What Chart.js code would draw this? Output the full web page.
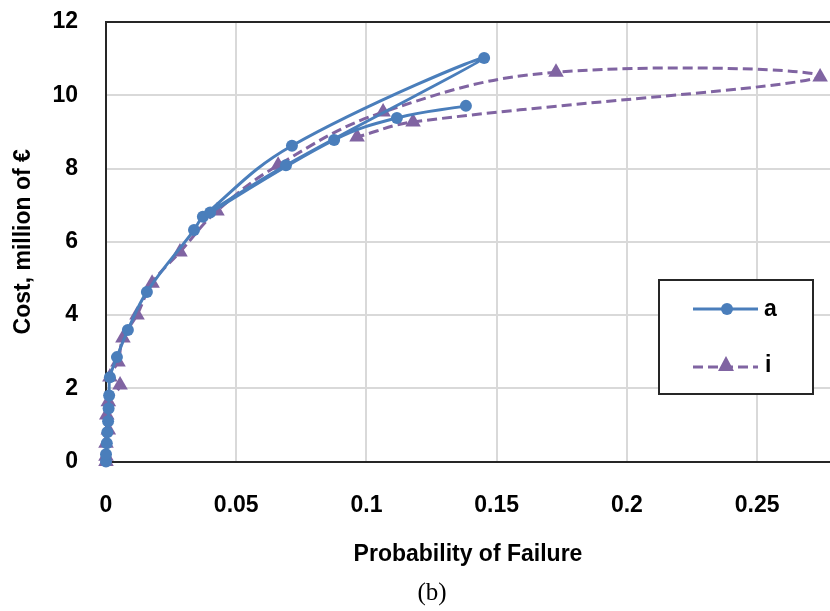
<!DOCTYPE html>
<html>
<head>
<meta charset="utf-8">
<script src="https://cdn.jsdelivr.net/npm/chart.js@4.4.1/dist/chart.umd.min.js"></script>
<style>
  html, body { margin: 0; padding: 0; background: #fff; }
  #wrap { position: relative; width: 830px; height: 611px; }
  #caption {
    position: absolute; left: 432px; top: 578px; transform: translateX(-50%);
    font-family: "Liberation Serif", "Times New Roman", serif; font-size: 25px; color: #000;
  }
</style>
</head>
<body>
<div id="wrap">
  <canvas id="graf" width="830" height="611"></canvas>
  <div id="caption">(b)</div>
</div>
<script>
// datos
var seriesNames = ['a', 'i'];

var aProb = [0, 0, 0.0003, 0.0005, 0.0008, 0.001, 0.0012, 0.0015, 0.0042, 0.0084, 0.0157, 0.0338, 0.0372, 0.0714, 0.1452, 0.0691, 0.040, 0.0876, 0.1117, 0.1382];
var aCost = [0, 0.2, 0.5, 0.8, 1.1, 1.45, 1.8, 2.3, 2.85, 3.59, 4.63, 6.32, 6.68, 8.62, 11.02, 8.09, 6.8, 8.78, 9.38, 9.71];

var iProb = [0, 0, 0, 0.0009, 0.0003, 0.0009, 0.0054, 0.0015, 0.0046, 0.0065, 0.0119, 0.0177, 0.0284, 0.0426, 0.0661, 0.1064, 0.1728, 0.2742, 0.1179, 0.0964];
var iCost = [0, 0.14, 0.5, 0.86, 1.27, 1.63, 2.09, 2.31, 2.72, 3.37, 4.0, 4.87, 5.72, 6.84, 8.09, 9.54, 10.63, 10.5, 9.27, 8.86];

var xTicks = [0, 0.05, 0.1, 0.15, 0.2, 0.25];
var yTicks = [0, 2, 4, 6, 8, 10, 12];

var azul = '#4a7ebb';
var morado = '#8064a2';
var fuente = '"Liberation Sans", Arial, sans-serif';

function puntos(xs, ys) {
  return xs.map(function (x, k) { return { x: x, y: ys[k] }; });
}

// leyenda dibujada dentro del area del grafico
var leyenda = {
  id: 'leyenda',
  afterDraw: function (chart) {
    var c = chart.ctx;
    c.save();
    c.fillStyle = '#fff';
    c.fillRect(659, 280, 154, 114);
    c.strokeStyle = '#262626';
    c.lineWidth = 2;
    c.strokeRect(659, 280, 154, 114);

    // a
    c.strokeStyle = azul;
    c.lineWidth = 3;
    c.beginPath(); c.moveTo(693, 309); c.lineTo(758, 309); c.stroke();
    c.fillStyle = azul;
    c.beginPath(); c.arc(727, 309, 6, 0, Math.PI * 2); c.fill();

    // i
    c.strokeStyle = morado;
    c.setLineDash([10, 5]);
    c.beginPath(); c.moveTo(693, 367); c.lineTo(758, 367); c.stroke();
    c.setLineDash([]);
    c.fillStyle = morado;
    c.beginPath(); c.moveTo(726, 356); c.lineTo(734, 371); c.lineTo(718, 371); c.closePath(); c.fill();

    c.fillStyle = '#000';
    c.font = 'bold 23px ' + fuente;
    c.textBaseline = 'middle';
    c.textAlign = 'left';
    c.fillText(seriesNames[0], 764, 310);
    c.fillText(seriesNames[1], 765, 366);
    c.restore();
  }
};

var ctx = document.getElementById('graf').getContext('2d');

var grafData = {
  datasets: [
    {
      label: seriesNames[0],
      data: puntos(aProb, aCost),
      showLine: true,
      borderColor: azul,
      backgroundColor: azul,
      borderWidth: 3,
      tension: 0.4,
      pointStyle: 'circle',
      pointRadius: 6,
      pointBorderWidth: 0,
      clip: false
    },
    {
      label: seriesNames[1],
      data: puntos(iProb, iCost),
      showLine: true,
      borderColor: morado,
      backgroundColor: morado,
      borderWidth: 3,
      borderDash: [10, 5],
      tension: 0.4,
      pointStyle: 'triangle',
      pointRadius: 9,
      pointBorderWidth: 0,
      clip: false
    }
  ]
};

var grafOptions = {
  responsive: false,
  animation: false,
  layout: { autoPadding: false, padding: { left: 0, top: 22, right: 0, bottom: 38.5 } },
  plugins: {
    legend: { display: false },
    tooltip: { enabled: false }
  },
  scales: {
    x: {
      type: 'linear',
      min: 0,
      max: 0.278,
      afterBuildTicks: function (s) { s.ticks = xTicks.map(function (v) { return { value: v }; }); },
      afterFit: function (s) { s.height = 111; s.paddingLeft = 0; s.paddingRight = 0; },
      grid: { color: '#d9d9d9', lineWidth: 2, drawTicks: false },
      border: { color: '#262626', width: 2 },
      ticks: {
        padding: 30,
        color: '#000',
        font: { family: fuente, size: 23, weight: 'bold' },
        callback: function (v) { return String(v); }
      },
      title: {
        display: true,
        text: 'Probability of Failure',
        color: '#000',
        padding: { top: 0, bottom: 4 },
        font: { family: fuente, size: 23, weight: 'bold' }
      }
    },
    y: {
      min: 0,
      max: 12,
      afterBuildTicks: function (s) { s.ticks = yTicks.map(function (v) { return { value: v }; }); },
      afterFit: function (s) { s.width = 106; s.paddingTop = 0; s.paddingBottom = 0; },
      grid: {
        drawTicks: false,
        color: function (c) { return c.tick && c.tick.value === 12 ? '#262626' : '#d9d9d9'; },
        lineWidth: 2
      },
      border: { color: '#262626', width: 2 },
      ticks: {
        padding: 28,
        color: '#000',
        font: { family: fuente, size: 23, weight: 'bold' }
      },
      title: {
        display: true,
        text: 'Cost, million of €',
        color: '#000',
        padding: { top: 10, bottom: 0 },
        font: { family: fuente, size: 23, weight: 'bold' }
      }
    }
  }
};

var graf = new Chart(ctx, {
  type: 'scatter',
  data: grafData,
  options: grafOptions,
  plugins: [leyenda]
});
</script>
</body>
</html>
